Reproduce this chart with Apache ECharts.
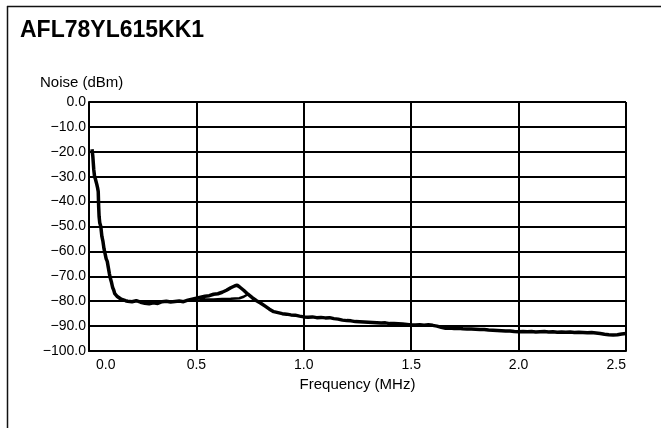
<!DOCTYPE html>
<html>
<head>
<meta charset="utf-8">
<script src="https://cdn.jsdelivr.net/npm/echarts@6/dist/echarts.min.js"></script>
<style>
html,body{margin:0;padding:0;background:#fff;}
#c{width:661px;height:430px;}
</style>
</head>
<body>
<div id="c"></div>
<script>
const chartTitle = 'AFL78YL615KK1';
const yAxisName = 'Noise (dBm)';
const xAxisName = 'Frequency (MHz)';

const freq = [0.014,0.018,0.022,0.026,0.030,0.036,0.040,0.043,0.045,0.047,0.050,0.055,0.060,0.065,0.070,0.075,0.080,0.085,0.090,0.095,0.100,0.105,0.110,0.115,0.120,0.130,0.140,0.150,0.160,0.170,0.180,
0.20,0.22,0.24,0.26,0.28,0.30,0.32,0.34,0.36,0.38,0.40,0.42,0.44,0.46,0.48,0.50,0.52,0.54,0.56,0.58,0.60,0.62,0.64,0.66,0.68,0.69,0.70,0.72,0.74,0.76,0.78,0.80,
0.82,0.84,0.86,0.88,0.90,0.92,0.94,0.96,0.98,1.00,1.02,1.04,1.06,1.08,1.10,1.12,1.14,1.16,1.18,1.20,1.22,1.24,1.26,1.28,1.30,1.32,1.34,1.36,1.38,1.40,
1.42,1.44,1.46,1.48,1.50,1.52,1.54,1.56,1.58,1.60,1.62,1.64,1.66,1.68,1.70,1.72,1.74,1.76,1.78,1.80,1.82,1.84,1.86,1.88,1.90,1.92,1.94,1.96,1.98,2.00,
2.02,2.04,2.06,2.08,2.10,2.12,2.14,2.16,2.18,2.20,2.22,2.24,2.26,2.28,2.30,2.32,2.34,2.36,2.38,2.40,2.42,2.44,2.46,2.48,2.50];

const noise = [-19,-22,-27,-30,-31,-33,-34.5,-36,-42,-46,-48.5,-50,-54,-56,-59,-61,-63,-64,-66.5,-69,-71,-72.5,-74.5,-75.5,-77,-78,-78.6,-79.2,-79.5,-79.8,-80,
-80.2,-79.8,-80.4,-80.8,-81,-80.6,-80.9,-80.2,-80,-80.3,-80.1,-79.9,-80.2,-79.6,-79.2,-78.8,-78.4,-78,-77.8,-77.2,-77,-76.4,-75.6,-74.6,-73.8,-73.6,-74.2,-75.6,-77.2,-78.6,-79.8,-80.8,
-82,-83.2,-84.2,-84.6,-85,-85.2,-85.5,-85.6,-86,-86.3,-86.4,-86.3,-86.6,-86.5,-86.7,-86.6,-87,-87.2,-87.6,-87.8,-87.9,-88.2,-88.3,-88.4,-88.5,-88.6,-88.7,-88.8,-88.7,-89,
-89,-89.1,-89.2,-89.4,-89.6,-89.6,-89.5,-89.7,-89.5,-89.7,-90,-90.5,-90.9,-90.8,-91,-90.9,-91.1,-91.2,-91.2,-91.3,-91.4,-91.4,-91.6,-91.7,-91.8,-91.9,-92,-92,-92.2,-92.3,
-92.2,-92.3,-92.2,-92.4,-92.3,-92.2,-92.4,-92.3,-92.5,-92.4,-92.5,-92.4,-92.6,-92.5,-92.6,-92.7,-92.6,-92.8,-93,-93.3,-93.5,-93.6,-93.5,-93.2,-93];

// lower branch of the trace loop near the 0.7 MHz bump
const loopFreq = [0.50,0.54,0.58,0.62,0.66,0.70,0.72,0.74];
const loopNoise = [-78.8,-79.2,-79.3,-79.1,-79,-78.8,-78.2,-77.2];

const xTicks = [0, 2.5, 0.5];   // min, max, interval
const yTicks = [-100, 0, 10];   // min, max, interval

const FONT = "'Liberation Sans', Arial, Helvetica, sans-serif";
const chart = echarts.init(document.getElementById('c'), null, {renderer: 'canvas'});

const mainData = freq.map((f, i) => [f, noise[i]]);
const loopData = loopFreq.map((f, i) => [f, loopNoise[i]]);

chart.setOption({
  backgroundColor: '#fff',
  animation: false,
  title: {
    text: chartTitle,
    left: 20, top: 19, padding: 0,
    textStyle: {fontFamily: FONT, fontWeight: 'bold', fontSize: 23, color: '#000'}
  },
  grid: {left: 89, right: 35, top: 102, bottom: 79, containLabel: false},
  xAxis: {
    type: 'value',
    min: xTicks[0], max: xTicks[1], interval: xTicks[2],
    name: xAxisName, nameLocation: 'middle', nameGap: 22,
    nameTextStyle: {fontFamily: FONT, fontSize: 15, color: '#000'},
    axisLine: {show: true, onZero: false, lineStyle: {color: '#000', width: 2}},
    axisTick: {show: false},
    axisLabel: {
      fontFamily: FONT, fontSize: 14, color: '#000', margin: 7,
      alignMinLabel: 'left', alignMaxLabel: 'right',
      formatter: v => v === xTicks[0] ? '{first|' + v.toFixed(1) + '}' : v.toFixed(1),
      rich: {first: {fontFamily: FONT, fontSize: 14, color: '#000', padding: [0, 0, 0, 7]}}
    },
    splitLine: {show: true, lineStyle: {color: '#000', width: 2}}
  },
  yAxis: {
    type: 'value',
    min: yTicks[0], max: yTicks[1], interval: yTicks[2],
    name: yAxisName, nameLocation: 'end', nameGap: 12,
    nameTextStyle: {fontFamily: FONT, fontSize: 15, color: '#000', align: 'left', padding: [0, 0, 0, -49]},
    axisLine: {show: true, onZero: false, lineStyle: {color: '#000', width: 2}},
    axisTick: {show: false},
    axisLabel: {
      fontFamily: FONT, fontSize: 14, color: '#000', margin: 3,
      formatter: v => (v < 0 ? '\u2212' : '') + Math.abs(v).toFixed(1)
    },
    splitLine: {show: true, lineStyle: {color: '#000', width: 2}}
  },
  series: [
    {
      type: 'line', data: mainData, showSymbol: false, symbol: 'none',
      lineStyle: {color: '#000', width: 3.5}, z: 5, clip: true
    },
    {
      type: 'line', data: loopData, showSymbol: false, symbol: 'none',
      lineStyle: {color: '#000', width: 2.5}, z: 5, clip: true
    }
  ],
  graphic: [
    {type: 'line', shape: {x1: 7, y1: 6.5, x2: 661, y2: 6.5}, style: {stroke: '#111', lineWidth: 1.5}},
    {type: 'line', shape: {x1: 7.5, y1: 6, x2: 7.5, y2: 428}, style: {stroke: '#111', lineWidth: 1.5}}
  ]
});
</script>
</body>
</html>
